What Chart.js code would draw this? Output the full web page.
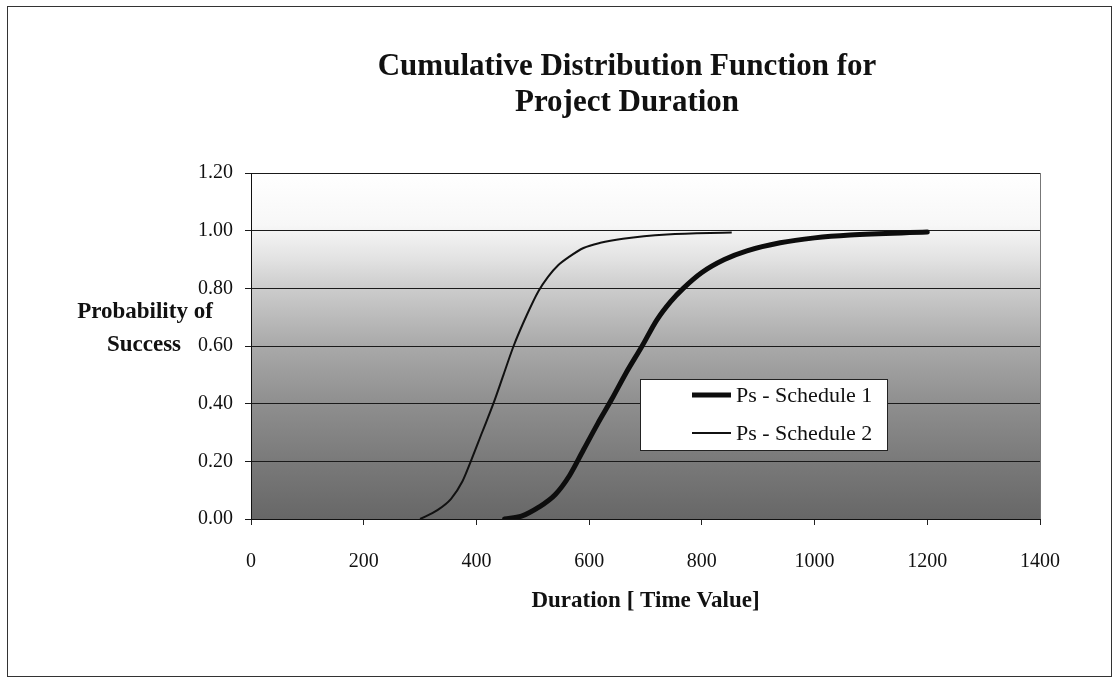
<!DOCTYPE html>
<html>
<head>
<meta charset="utf-8">
<script src="https://cdn.jsdelivr.net/npm/chart.js@4"></script>
<style>
  html, body { margin: 0; padding: 0; background: #ffffff; }
  #wrap { width: 1118px; height: 682px; position: relative; }
</style>
</head>
<body>
<div id="wrap"><canvas id="c" width="1118" height="682"></canvas></div>
<script>
// ---- Data ----
const titleLines = ["Cumulative Distribution Function for", "Project Duration"];
const yTitleLines = ["Probability of", "Success"];
const xTitle = "Duration [ Time Value]";
const seriesNames = ["Ps - Schedule 1", "Ps - Schedule 2"];

const s1Duration = [450, 480, 510, 540, 565, 590, 615, 640, 665, 694, 720, 745, 767, 800, 840, 880, 939, 1000, 1063, 1200];
const s1Prob     = [0.00, 0.01, 0.04, 0.085, 0.15, 0.24, 0.33, 0.415, 0.505, 0.60, 0.69, 0.755, 0.80, 0.855, 0.90, 0.93, 0.958, 0.975, 0.985, 0.995];

const s2Duration = [300, 330, 355, 375, 390, 410, 430, 448, 466, 490, 510, 527, 545, 565, 590, 620, 660, 738, 853];
const s2Prob     = [0.00, 0.03, 0.07, 0.13, 0.20, 0.30, 0.40, 0.50, 0.60, 0.71, 0.79, 0.84, 0.88, 0.91, 0.94, 0.958, 0.972, 0.987, 0.994];

const xMin = 0, xMax = 1400, xStep = 200;
const yMin = 0, yMax = 1.2, yStep = 0.2;

// ---- Build ----
const toPoints = (xs, ys) => xs.map((x, i) => ({ x: x, y: ys[i] }));
const serif = "'Liberation Serif', 'Times New Roman', serif";
const ink = '#111111';

const decorPlugin = {
  id: 'decor',
  beforeDraw(chart) {
    const { ctx, chartArea: a } = chart;
    ctx.save();
    ctx.fillStyle = '#ffffff';
    ctx.fillRect(0, 0, chart.width, chart.height);
    const g = ctx.createLinearGradient(0, a.top, 0, a.bottom);
    g.addColorStop(0.00, '#ffffff');
    g.addColorStop(0.15, '#f7f7f7');
    g.addColorStop(0.25, '#e2e2e2');
    g.addColorStop(0.33, '#cdcdcd');
    g.addColorStop(0.50, '#a9a9a9');
    g.addColorStop(0.67, '#8e8e8e');
    g.addColorStop(0.83, '#7a7a7a');
    g.addColorStop(1.00, '#676767');
    ctx.fillStyle = g;
    ctx.fillRect(a.left, a.top, a.right - a.left, a.bottom - a.top);
    // plot right edge
    ctx.strokeStyle = '#777777';
    ctx.lineWidth = 1;
    ctx.beginPath();
    ctx.moveTo(a.right + 0.5, a.top);
    ctx.lineTo(a.right + 0.5, a.bottom);
    ctx.stroke();
    ctx.restore();
  },
  afterDraw(chart) {
    const { ctx } = chart;
    ctx.save();
    // outer frame
    ctx.strokeStyle = '#333333';
    ctx.lineWidth = 1;
    ctx.strokeRect(7.5, 6.5, 1104, 670);
    // title
    ctx.fillStyle = ink;
    ctx.textAlign = 'center';
    ctx.textBaseline = 'middle';
    ctx.font = 'bold 31px ' + serif;
    ctx.fillText(titleLines[0], 627, 66.5);
    ctx.fillText(titleLines[1], 627, 103);
    // y title
    ctx.font = 'bold 23px ' + serif;
    ctx.fillText(yTitleLines[0], 145, 312);
    ctx.fillText(yTitleLines[1], 144, 345);
    // legend
    const bx = 640.5, by = 379.5, bw = 247, bh = 71;
    ctx.fillStyle = '#ffffff';
    ctx.fillRect(bx, by, bw, bh);
    ctx.strokeStyle = '#222222';
    ctx.lineWidth = 1;
    ctx.strokeRect(bx, by, bw, bh);
    const rows = [395, 433];
    chart.data.datasets.forEach((ds, i) => {
      ctx.strokeStyle = ds.borderColor;
      ctx.lineWidth = ds.borderWidth;
      ctx.lineCap = 'butt';
      ctx.beginPath();
      ctx.moveTo(692, rows[i]);
      ctx.lineTo(731, rows[i]);
      ctx.stroke();
      ctx.fillStyle = ink;
      ctx.textAlign = 'left';
      ctx.textBaseline = 'middle';
      ctx.font = '22px ' + serif;
      ctx.fillText(ds.label, 736, rows[i] + 1);
    });
    ctx.restore();
  }
};

new Chart(document.getElementById('c'), {
  type: 'scatter',
  data: {
    datasets: [
      {
        label: seriesNames[0],
        data: toPoints(s1Duration, s1Prob),
        showLine: true,
        borderColor: '#0d0d0d',
        backgroundColor: '#0d0d0d',
        borderWidth: 5,
        pointRadius: 0,
        cubicInterpolationMode: 'monotone',
        borderCapStyle: 'round'
      },
      {
        label: seriesNames[1],
        data: toPoints(s2Duration, s2Prob),
        showLine: true,
        borderColor: '#111111',
        backgroundColor: '#111111',
        borderWidth: 2,
        pointRadius: 0,
        cubicInterpolationMode: 'monotone'
      }
    ]
  },
  options: {
    responsive: false,
    animation: false,
    events: [],
    layout: { padding: { left: 0, top: 173, right: 78, bottom: 0 } },
    plugins: {
      legend: { display: false },
      title: { display: false },
      tooltip: { enabled: false }
    },
    scales: {
      x: {
        type: 'linear',
        min: xMin, max: xMax,
        afterFit(s) { s.height = 163; },
        ticks: {
          stepSize: xStep,
          padding: 25,
          color: ink,
          font: { family: serif, size: 20 },
          maxRotation: 0,
          callback: v => String(v)
        },
        grid: {
          display: true,
          drawOnChartArea: false,
          drawTicks: true,
          tickLength: 6,
          color: '#222222'
        },
        border: { display: true, color: '#111111', width: 1 },
        title: {
          display: true,
          text: xTitle,
          color: ink,
          font: { family: serif, size: 23, weight: 'bold' },
          padding: { top: 0, bottom: 67 }
        }
      },
      y: {
        type: 'linear',
        min: yMin, max: yMax,
        afterFit(s) { s.width = 251; },
        ticks: {
          stepSize: yStep,
          padding: 12,
          color: ink,
          font: { family: serif, size: 20 },
          callback: v => Number(v).toFixed(2)
        },
        grid: {
          display: true,
          drawOnChartArea: true,
          drawTicks: true,
          tickLength: 6,
          color: '#1a1a1a',
          lineWidth: 1
        },
        border: { display: true, color: '#111111', width: 1 }
      }
    }
  },
  plugins: [decorPlugin]
});
</script>
</body>
</html>
